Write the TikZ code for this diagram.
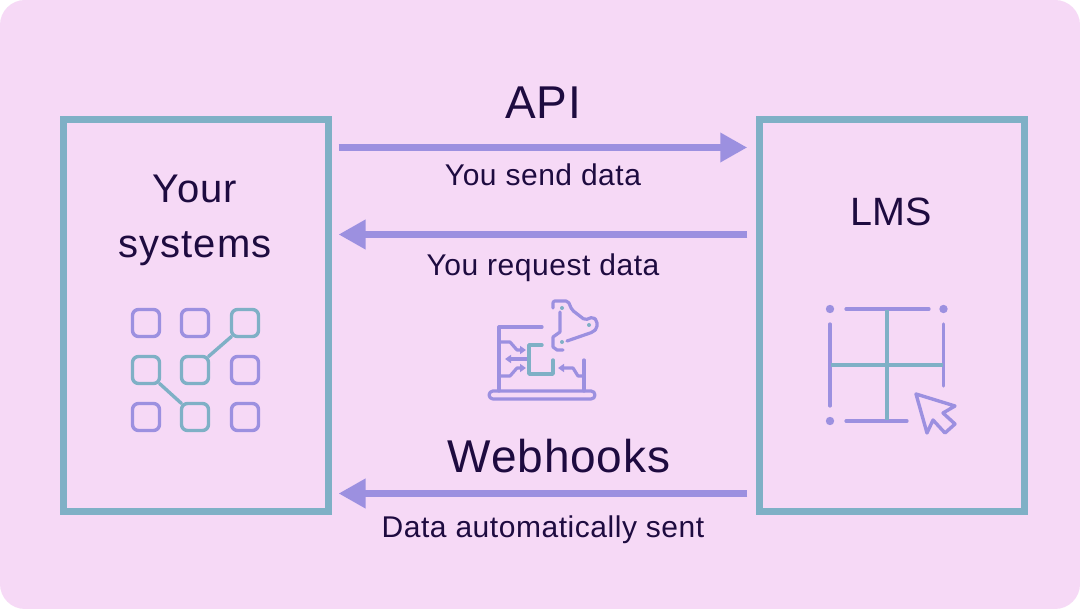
\documentclass[tikz,border=0pt]{standalone}
\usepackage{fontspec}
\setmainfont{Liberation Sans}
\newfontfamily\spacedfont[LetterSpace=1.8]{Liberation Sans}
\newfontfamily\widefont[LetterSpace=2.8]{Liberation Sans}
\usetikzlibrary{arrows.meta}
\definecolor{panelbg}{HTML}{F6D9F6}
\definecolor{inkdark}{HTML}{1E0B40}
\definecolor{tealline}{HTML}{7FB0C6}
\definecolor{purpleline}{HTML}{9C90E0}
\tikzset{
  sysbox/.style={draw=tealline,line width=7pt,minimum width=264.5pt,minimum height=392pt,inner sep=0pt},
  flow/.style={draw=purpleline,line width=7pt,-{Triangle[length=27pt,width=28pt]}},
  bigtext/.style={text=inkdark,font=\spacedfont\fontsize{46}{50}\selectfont,inner sep=0pt},
  boxtext/.style={text=inkdark,font=\widefont\fontsize{40}{55}\selectfont,inner sep=0pt,align=center},
  smalltext/.style={text=inkdark,font=\spacedfont\fontsize{30}{32}\selectfont,inner sep=0pt},
  pline/.style={draw=purpleline,line width=3.2pt,line cap=round,line join=round},
  tline/.style={draw=tealline,line width=3.4pt,line cap=round,line join=round},
  psquare/.style={draw=purpleline,line width=3.4pt,rounded corners=6pt,minimum size=27pt,inner sep=0pt,outer sep=0pt},
  tsquare/.style={draw=tealline,line width=3.4pt,rounded corners=6pt,minimum size=27pt,inner sep=0pt,outer sep=0pt},
  ptip/.style={pline,-{Triangle[length=6pt,width=8pt]}},
}
\begin{document}
\begin{tikzpicture}[x=1pt,y=-1pt]
\useasboundingbox (0,0) rectangle (1080,609);
\fill[white] (0,0) rectangle (1080,609);
\fill[panelbg,rounded corners=25pt] (0,0) rectangle (1080,609);

\node[sysbox] (systems) at (195.75,315.5) {};
\node[sysbox] (lms) at (892,315.5) {};

\coordinate (apirow) at (0,147.5);
\coordinate (requestrow) at (0,234.5);
\coordinate (hookrow) at (0,493.5);
\draw[flow,shorten <=7pt,shorten >=9pt] (systems.east |- apirow) -- (lms.west |- apirow);
\draw[flow,shorten <=9pt,shorten >=7pt] (lms.west |- requestrow) -- (systems.east |- requestrow);
\draw[flow,shorten <=9pt,shorten >=7pt] (lms.west |- hookrow) -- (systems.east |- hookrow);

\node[bigtext] (apilabel) at (543,103) {API};
\node[smalltext] (sendlabel) at (543,175) {You send data};
\node[smalltext] (requestlabel) at (543,268) {You request data};
\node[bigtext] (hooklabel) at (559,456) {Webhooks};
\node[smalltext] (autolabel) at (543,530) {Data automatically sent};
\node[boxtext] (systemslabel) at (195,220) {Your\\systems};
\node[boxtext,font=\fontsize{39.5}{55}\selectfont] (lmslabel) at (891,212) {LMS};

% grid of systems
\node[psquare] (g11) at (146,323) {};
\node[psquare] (g12) at (195,323) {};
\node[tsquare] (g13) at (245,323) {};
\node[tsquare] (g21) at (146,370) {};
\node[tsquare] (g22) at (195,370) {};
\node[psquare] (g23) at (245,370) {};
\node[psquare] (g31) at (146,417) {};
\node[tsquare] (g32) at (195,417) {};
\node[psquare] (g33) at (245,417) {};
\draw[tline] (g13.south west) -- (g22.north east);
\draw[tline] (g21.south east) -- (g32.north west);

% laptop
\draw[pline,rounded corners=4pt] (489,391) rectangle (595,399);
\draw[pline] (542,327) -- (499,327) -- (499,391);
\draw[pline] (584,360) -- (584,391);
\draw[ptip] (499,342) -- (510,342) -- (517,350) -- (526,350);
\draw[ptip] (529,359) -- (505,359);
\draw[ptip] (499,376) -- (510,376) -- (517,368) -- (526,368);
\draw[ptip] (584,376) -- (578,376) -- (573,368) -- (558,368);
\draw[tline] (542,345) -- (529,345) -- (529,374) -- (553,374) -- (553,360);
\draw[pline] (560,312) -- (560,332) -- (553,337) -- (553,347) -- (557,350) -- (563,350);
\draw[pline,rounded corners=2pt] (553,308) -- (553,301) -- (568,301) -- (572,310) -- (585,320) -- (593,317) -- (597,321) -- (597,328) -- (593,332) -- (567,341);
\fill[tealline] (562,308) circle (2pt) (589,325) circle (2pt) (562,342) circle (2pt);

% lms table
\fill[purpleline] (830,309) circle (4.2pt) (943.5,309) circle (4.2pt) (830,421) circle (4.2pt);
\draw[pline] (846,309) -- (929,309);
\draw[pline] (830,324) -- (830,406);
\draw[pline] (943.5,324) -- (943.5,386);
\draw[pline] (846,421) -- (907,421);
\draw[tline,line cap=butt] (887,310) -- (887,420);
\draw[tline,line cap=butt] (831,365) -- (943,365);
\draw[pline,line width=3.4pt] (916,394) -- (955,406) -- (943,413) -- (955,424) -- (945,433) -- (933,420) -- (927,433) -- cycle;
\end{tikzpicture}
\end{document}
